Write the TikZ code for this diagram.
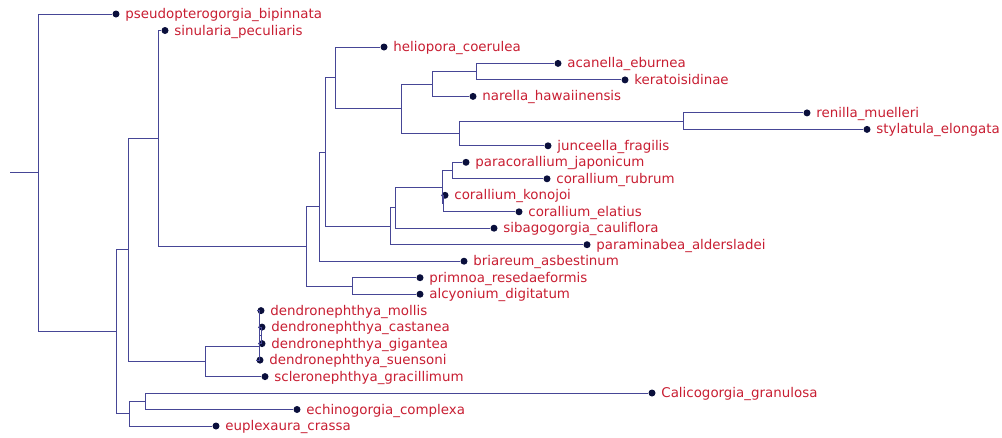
\documentclass[tikz,border=0pt]{standalone}
\usepackage{fontspec}
\setmainfont{DejaVu Sans}
\definecolor{brc}{RGB}{70,70,150}
\definecolor{txc}{RGB}{200,30,50}
\definecolor{dtc}{RGB}{10,15,60}
\begin{document}
\begin{tikzpicture}[x=1pt,y=-1pt,
  leaf/.style={circle,fill=dtc,draw=none,minimum size=7pt,inner sep=0pt},
  lbl/.style={anchor=base west,inner sep=0pt,xshift=5.5pt,yshift=-4.5pt,text=txc,font=\fontsize{13.4}{15}\selectfont},
  br/.style={draw=brc,line width=1pt}]
\useasboundingbox (0,0) rectangle (1002,437);
% leaves
\node[leaf] (l0) at (116,14) {};
\node[leaf] (l1) at (165,30.5) {};
\node[leaf] (l2) at (384,47) {};
\node[leaf] (l3) at (558,63.4) {};
\node[leaf] (l4) at (625,79.9) {};
\node[leaf] (l5) at (473,96.4) {};
\node[leaf] (l6) at (807,112.9) {};
\node[leaf] (l7) at (867,129.4) {};
\node[leaf] (l8) at (548,145.8) {};
\node[leaf] (l9) at (466,162.3) {};
\node[leaf] (l10) at (547,178.8) {};
\node[leaf] (l11) at (445,195.3) {};
\node[leaf] (l12) at (519,211.8) {};
\node[leaf] (l13) at (494,228.2) {};
\node[leaf] (l14) at (587,244.7) {};
\node[leaf] (l15) at (464,261.2) {};
\node[leaf] (l16) at (420,277.7) {};
\node[leaf] (l17) at (420,294.2) {};
\node[leaf] (l18) at (261,310.6) {};
\node[leaf] (l19) at (262,327.1) {};
\node[leaf] (l20) at (262,343.6) {};
\node[leaf] (l21) at (260,360.1) {};
\node[leaf] (l22) at (265,376.6) {};
\node[leaf] (l23) at (652,393) {};
\node[leaf] (l24) at (297,409.5) {};
\node[leaf] (l25) at (216,426) {};
% labels
\node[lbl] (t0) at (l0.east) {pseudopterogorgia\_bipinnata};
\node[lbl] (t1) at (l1.east) {sinularia\_peculiaris};
\node[lbl] (t2) at (l2.east) {heliopora\_coerulea};
\node[lbl] (t3) at (l3.east) {acanella\_eburnea};
\node[lbl] (t4) at (l4.east) {keratoisidinae};
\node[lbl] (t5) at (l5.east) {narella\_hawaiinensis};
\node[lbl] (t6) at (l6.east) {renilla\_muelleri};
\node[lbl] (t7) at (l7.east) {stylatula\_elongata};
\node[lbl] (t8) at (l8.east) {junceella\_fragilis};
\node[lbl] (t9) at (l9.east) {paracorallium\_japonicum};
\node[lbl] (t10) at (l10.east) {corallium\_rubrum};
\node[lbl] (t11) at (l11.east) {corallium\_konojoi};
\node[lbl] (t12) at (l12.east) {corallium\_elatius};
\node[lbl] (t13) at (l13.east) {sibagogorgia\_cauliflora};
\node[lbl] (t14) at (l14.east) {paraminabea\_aldersladei};
\node[lbl] (t15) at (l15.east) {briareum\_asbestinum};
\node[lbl] (t16) at (l16.east) {primnoa\_resedaeformis};
\node[lbl] (t17) at (l17.east) {alcyonium\_digitatum};
\node[lbl] (t18) at (l18.east) {dendronephthya\_mollis};
\node[lbl] (t19) at (l19.east) {dendronephthya\_castanea};
\node[lbl] (t20) at (l20.east) {dendronephthya\_gigantea};
\node[lbl] (t21) at (l21.east) {dendronephthya\_suensoni};
\node[lbl] (t22) at (l22.east) {scleronephthya\_gracillimum};
\node[lbl] (t23) at (l23.east) {Calicogorgia\_granulosa};
\node[lbl] (t24) at (l24.east) {echinogorgia\_complexa};
\node[lbl] (t25) at (l25.east) {euplexaura\_crassa};
% internal nodes
\coordinate (S) at (476,71.7);
\coordinate (Q) at (432,84);
\coordinate (T) at (683,121.2);
\coordinate (R) at (459,133.5);
\coordinate (P) at (401,108.8);
\coordinate (J) at (335,77.9);
\coordinate (N) at (452,170.6);
\coordinate (O) at (443.5,203.6);
\coordinate (M) at (442,187.1);
\coordinate (L) at (395,207.7);
\coordinate (K) at (390,226.2);
\coordinate (I) at (325,152);
\coordinate (G) at (319,206.6);
\coordinate (H) at (352,286);
\coordinate (F) at (306,246.3);
\coordinate (D) at (158,138.4);
\coordinate (U2) at (261,335.4);
\coordinate (U) at (259,346);
\coordinate (E) at (205,361.3);
\coordinate (B) at (128,249.9);
\coordinate (V) at (145,401.3);
\coordinate (C) at (129,413.6);
\coordinate (A) at (116,331.8);
\coordinate (root) at (38,172.9);
\coordinate (stub) at (10,172.9);
% branches
\path[br] (stub) -- (root);
\path[br] (root) |- (l0); \path[br] (root) |- (A);
\path[br] (A) |- (B); \path[br] (A) |- (C);
\path[br] (B) |- (D); \path[br] (B) |- (E);
\path[br] (D) |- (l1); \path[br] (D) |- (F);
\path[br] (F) |- (G); \path[br] (F) |- (H);
\path[br] (G) |- (I); \path[br] (G) |- (l15);
\path[br] (I) |- (J); \path[br] (I) |- (K);
\path[br] (J) |- (l2); \path[br] (J) |- (P);
\path[br] (P) |- (Q); \path[br] (P) |- (R);
\path[br] (Q) |- (S); \path[br] (Q) |- (l5);
\path[br] (S) |- (l3); \path[br] (S) |- (l4);
\path[br] (R) |- (T); \path[br] (R) |- (l8);
\path[br] (T) |- (l6); \path[br] (T) |- (l7);
\path[br] (K) |- (L); \path[br] (K) |- (l14);
\path[br] (L) |- (M); \path[br] (L) |- (l13);
\path[br] (M) |- (N); \path[br] (M) |- (O);
\path[br] (N) |- (l9); \path[br] (N) |- (l10);
\path[br] (O) |- (l11); \path[br] (O) |- (l12);
\path[br] (H) |- (l16); \path[br] (H) |- (l17);
\path[br] (E) |- (U); \path[br] (E) |- (l22);
\path[br] (U) |- (l18); \path[br] (U) |- (U2); \path[br] (U) |- (l21);
\path[br] (U2) |- (l19); \path[br] (U2) |- (l20);
\path[br] (C) |- (V); \path[br] (C) |- (l25);
\path[br] (V) |- (l23); \path[br] (V) |- (l24);
\end{tikzpicture}
\end{document}
